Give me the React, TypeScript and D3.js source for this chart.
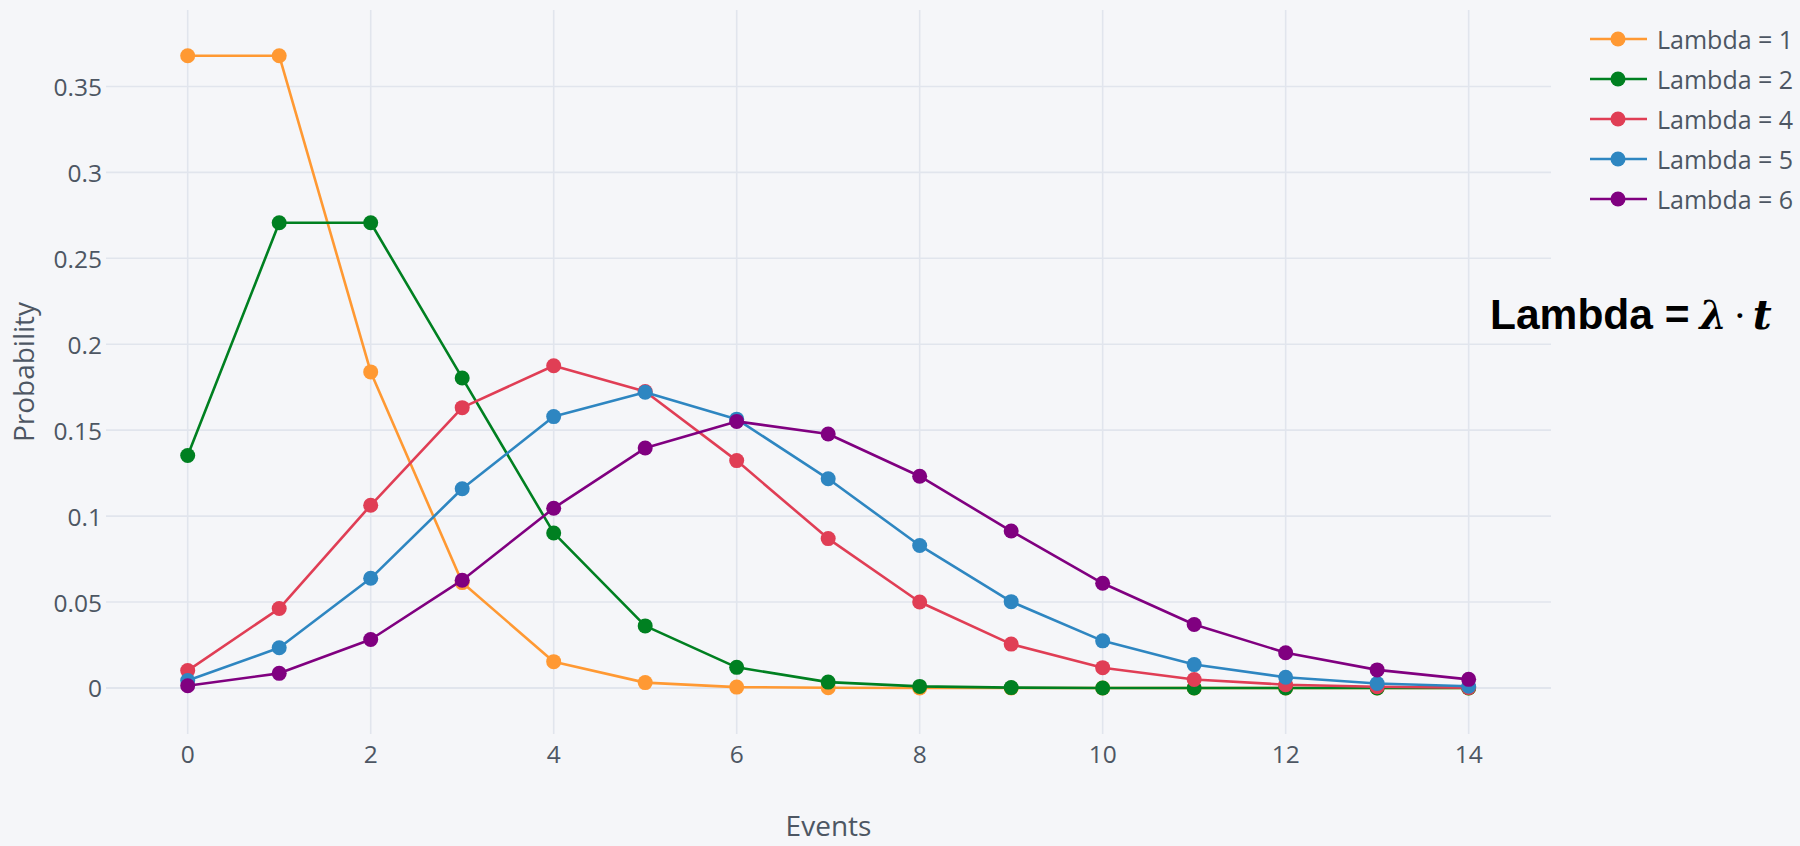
import React, { useEffect } from "react";
import * as d3 from "d3";

const events = [0, 1, 2, 3, 4, 5, 6, 7, 8, 9, 10, 11, 12, 13, 14];

const lambda1 = [0.3679, 0.3679, 0.1839, 0.0613, 0.0153, 0.0031, 0.0005, 0.0001, 0.0, 0.0, 0.0, 0.0, 0.0, 0.0, 0.0];
const lambda2 = [0.1353, 0.2707, 0.2707, 0.1804, 0.0902, 0.0361, 0.012, 0.0034, 0.0009, 0.0002, 0.0, 0.0, 0.0, 0.0, 0.0];
const lambda4 = [0.0101, 0.0462, 0.1063, 0.1631, 0.1875, 0.1725, 0.1323, 0.0869, 0.05, 0.0255, 0.0118, 0.0049, 0.0019, 0.0007, 0.0002];
const lambda5 = [0.0043, 0.0234, 0.0638, 0.1159, 0.1579, 0.1721, 0.1564, 0.1217, 0.0829, 0.0502, 0.0274, 0.0136, 0.0062, 0.0026, 0.001];
const lambda6 = [0.0013, 0.0085, 0.0282, 0.0627, 0.1046, 0.1396, 0.1551, 0.1478, 0.1232, 0.0913, 0.0609, 0.0369, 0.0205, 0.0105, 0.005];

const seriesNames = ["Lambda = 1", "Lambda = 2", "Lambda = 4", "Lambda = 5", "Lambda = 6"];
const seriesValues = [lambda1, lambda2, lambda4, lambda5, lambda6];
const seriesColors = ["#ff9933", "#008021", "#e03e55", "#2e86c1", "#800080"];

const xTicks = [0, 2, 4, 6, 8, 10, 12, 14];
const yTicks = [0, 0.05, 0.1, 0.15, 0.2, 0.25, 0.3, 0.35];

const X_DOMAIN = [-0.893, 14.9];
const Y_DOMAIN = [-0.0268, 0.3945];

const W = 1800;
const H = 846;
const plot = { left: 106, right: 1551, top: 10, bottom: 734 };

const FONT = "'Open Sans', 'Noto Sans', sans-serif";
const TXT = "#4d5663";
const GRID = "#e1e5ed";
const BG = "#f5f6f9";

export default function App() {
  useEffect(() => {
    document.body.style.margin = "0";
    document.body.style.background = BG;
  }, []);

  const x = d3.scaleLinear().domain(X_DOMAIN).range([plot.left, plot.right]);
  const y = d3.scaleLinear().domain(Y_DOMAIN).range([plot.bottom, plot.top]);

  const line = d3
    .line<number>()
    .x((_, i) => x(events[i]))
    .y((d) => y(d));

  const fmt = (v: number) => String(+v.toFixed(2));

  return (
    <svg width={W} height={H} style={{ display: "block", background: BG }} fontFamily={FONT}>
      <rect x={0} y={0} width={W} height={H} fill={BG} />
      {/* grid */}
      {xTicks.map((t) => (
        <line key={"vx" + t} x1={x(t)} x2={x(t)} y1={plot.top} y2={plot.bottom} stroke={GRID} strokeWidth={1.6} />
      ))}
      {yTicks.map((t) => (
        <line key={"hy" + t} x1={plot.left} x2={plot.right} y1={y(t)} y2={y(t)} stroke={GRID} strokeWidth={t === 0 ? 2 : 1.6} />
      ))}
      {/* tick labels */}
      {xTicks.map((t) => (
        <text key={"tx" + t} x={x(t)} y={753} textAnchor="middle" dominantBaseline="central" fontSize={24.5} fill={TXT}>
          {t}
        </text>
      ))}
      {yTicks.map((t) => (
        <text key={"ty" + t} x={102} y={y(t)} textAnchor="end" dominantBaseline="central" fontSize={24.5} fill={TXT}>
          {fmt(t)}
        </text>
      ))}
      {/* axis titles */}
      <text x={(plot.left + plot.right) / 2} y={836} textAnchor="middle" fontSize={28} fill={TXT}>
        Events
      </text>
      <text
        transform={`translate(34, ${(plot.top + plot.bottom) / 2}) rotate(-90)`}
        textAnchor="middle"
        fontSize={28}
        fill={TXT}
      >
        Probability
      </text>
      {/* series */}
      {seriesValues.map((vals, si) => (
        <g key={"s" + si}>
          <path d={line(vals) || ""} fill="none" stroke={seriesColors[si]} strokeWidth={2.6} strokeLinejoin="round" />
          {vals.map((v, i) => (
            <circle key={i} cx={x(events[i])} cy={y(v)} r={7.5} fill={seriesColors[si]} />
          ))}
        </g>
      ))}
      {/* legend */}
      {seriesNames.map((name, si) => {
        const ly = 39 + si * 40;
        return (
          <g key={"l" + si}>
            <line x1={1590} x2={1647} y1={ly} y2={ly} stroke={seriesColors[si]} strokeWidth={2.6} />
            <circle cx={1618} cy={ly} r={7.5} fill={seriesColors[si]} />
            <text x={1657} y={ly} dominantBaseline="central" fontSize={25} fill={TXT}>
              {name}
            </text>
          </g>
        );
      })}
      {/* annotation */}
      <text x={1490} y={329} fontSize={42.5} fill="#000" fontWeight="bold" fontFamily="'Liberation Sans', Arial, sans-serif">
        Lambda =
        <tspan dx={10} fontFamily="'DejaVu Serif', serif" fontStyle="italic" fontWeight="bold" fontSize={39}>
          λ
        </tspan>
        <tspan dx={7} fontFamily="'DejaVu Serif', serif" fontWeight="normal" fontSize={37}>
          ·
        </tspan>
        <tspan dx={7} fontFamily="'DejaVu Serif', serif" fontStyle="italic" fontWeight="bold" fontSize={41}>
          t
        </tspan>
      </text>
    </svg>
  );
}
